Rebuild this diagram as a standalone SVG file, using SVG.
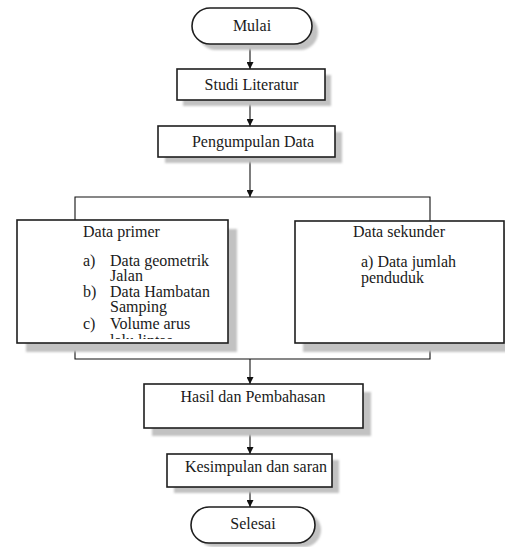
<svg xmlns="http://www.w3.org/2000/svg" width="505" height="547" viewBox="0 0 505 547">
<style>
  .box { fill: #ffffff; stroke: #1e1e1e; stroke-width: 1.6; }
  .shadow { fill: #c2c2c2; filter: url(#blur); }
  .conn { fill: none; stroke: #111111; stroke-width: 1.1; }
  text { font-family: "Liberation Serif", "Times New Roman", serif; font-size: 16px; fill: #1a1a1a; }
  .c { text-anchor: middle; }
</style>
<defs>
  <filter id="blur" x="-10%" y="-10%" width="120%" height="120%">
    <feGaussianBlur stdDeviation="0.8"/>
  </filter>
  <marker id="arrow" viewBox="0 0 10 10" refX="10" refY="5" markerWidth="7" markerHeight="7" markerUnits="userSpaceOnUse" orient="auto">
    <path d="M0,0 L10,5 L0,10 Z" fill="#111111"/>
  </marker>
  <clipPath id="clipPrimer">
    <rect x="17" y="220" width="211" height="119"/>
  </clipPath>
</defs>
<rect width="505" height="547" fill="#ffffff"/>

<g id="connectors">
  <line class="conn" x1="250" y1="44" x2="250" y2="69" marker-end="url(#arrow)"/>
  <line class="conn" x1="250" y1="100" x2="250" y2="126" marker-end="url(#arrow)"/>
  <line class="conn" x1="250" y1="157" x2="250" y2="197" marker-end="url(#arrow)"/>
  <polyline class="conn" points="75,220 75,197 430,197 430,221"/>
  <polyline class="conn" points="75,343 75,359 430,359 430,343"/>
  <line class="conn" x1="250" y1="359" x2="250" y2="384" marker-end="url(#arrow)"/>
  <line class="conn" x1="250" y1="428" x2="250" y2="454" marker-end="url(#arrow)"/>
  <line class="conn" x1="250" y1="487" x2="250" y2="507" marker-end="url(#arrow)"/>
</g>

<g id="mulai">
  <rect class="shadow" x="198" y="14" width="120" height="36" rx="18"/>
  <rect class="box" x="192" y="8" width="120" height="36" rx="18"/>
  <text class="c" x="252" y="31">Mulai</text>
</g>

<g id="studi-literatur">
  <rect class="shadow" x="183" y="75" width="148" height="31"/>
  <rect class="box" x="177" y="69" width="148" height="31"/>
  <text class="c" x="251.5" y="90">Studi Literatur</text>
</g>

<g id="pengumpulan-data">
  <rect class="shadow" x="165" y="132" width="177" height="31"/>
  <rect class="box" x="158" y="126" width="177" height="31"/>
  <text class="c" x="253" y="147">Pengumpulan Data</text>
</g>

<g id="data-primer">
  <rect class="shadow" x="26" y="229" width="211" height="123"/>
  <rect class="box" x="17" y="220" width="211" height="123"/>
  <text x="83" y="237">Data primer</text>
  <text x="83" y="266">a)</text>
  <text x="110" y="266">Data geometrik</text>
  <text x="110" y="281">Jalan</text>
  <text x="83" y="297">b)</text>
  <text x="110" y="297">Data Hambatan</text>
  <text x="110" y="312">Samping</text>
  <text x="83" y="329">c)</text>
  <text x="110" y="329">Volume arus</text>
  <text x="110" y="346" clip-path="url(#clipPrimer)">lalu lintas</text>
</g>

<g id="data-sekunder">
  <rect class="shadow" x="303" y="229" width="211" height="123"/>
  <rect class="box" x="295" y="221" width="209" height="122"/>
  <text x="353" y="237">Data sekunder</text>
  <text x="361" y="267">a) Data jumlah</text>
  <text x="361" y="283">penduduk</text>
</g>

<g id="hasil-pembahasan">
  <rect class="shadow" x="152" y="392" width="219" height="44"/>
  <rect class="box" x="144" y="384" width="219" height="44"/>
  <text class="c" x="253" y="402">Hasil dan Pembahasan</text>
</g>

<g id="kesimpulan">
  <rect class="shadow" x="174" y="460" width="165" height="33"/>
  <rect class="box" x="167" y="454" width="165" height="33"/>
  <text class="c" x="256" y="472">Kesimpulan dan saran</text>
</g>

<g id="selesai">
  <rect class="shadow" x="197" y="513" width="124" height="34" rx="17"/>
  <rect class="box" x="191" y="507" width="124" height="36" rx="18"/>
  <text class="c" x="253" y="529">Selesai</text>
</g>
</svg>
